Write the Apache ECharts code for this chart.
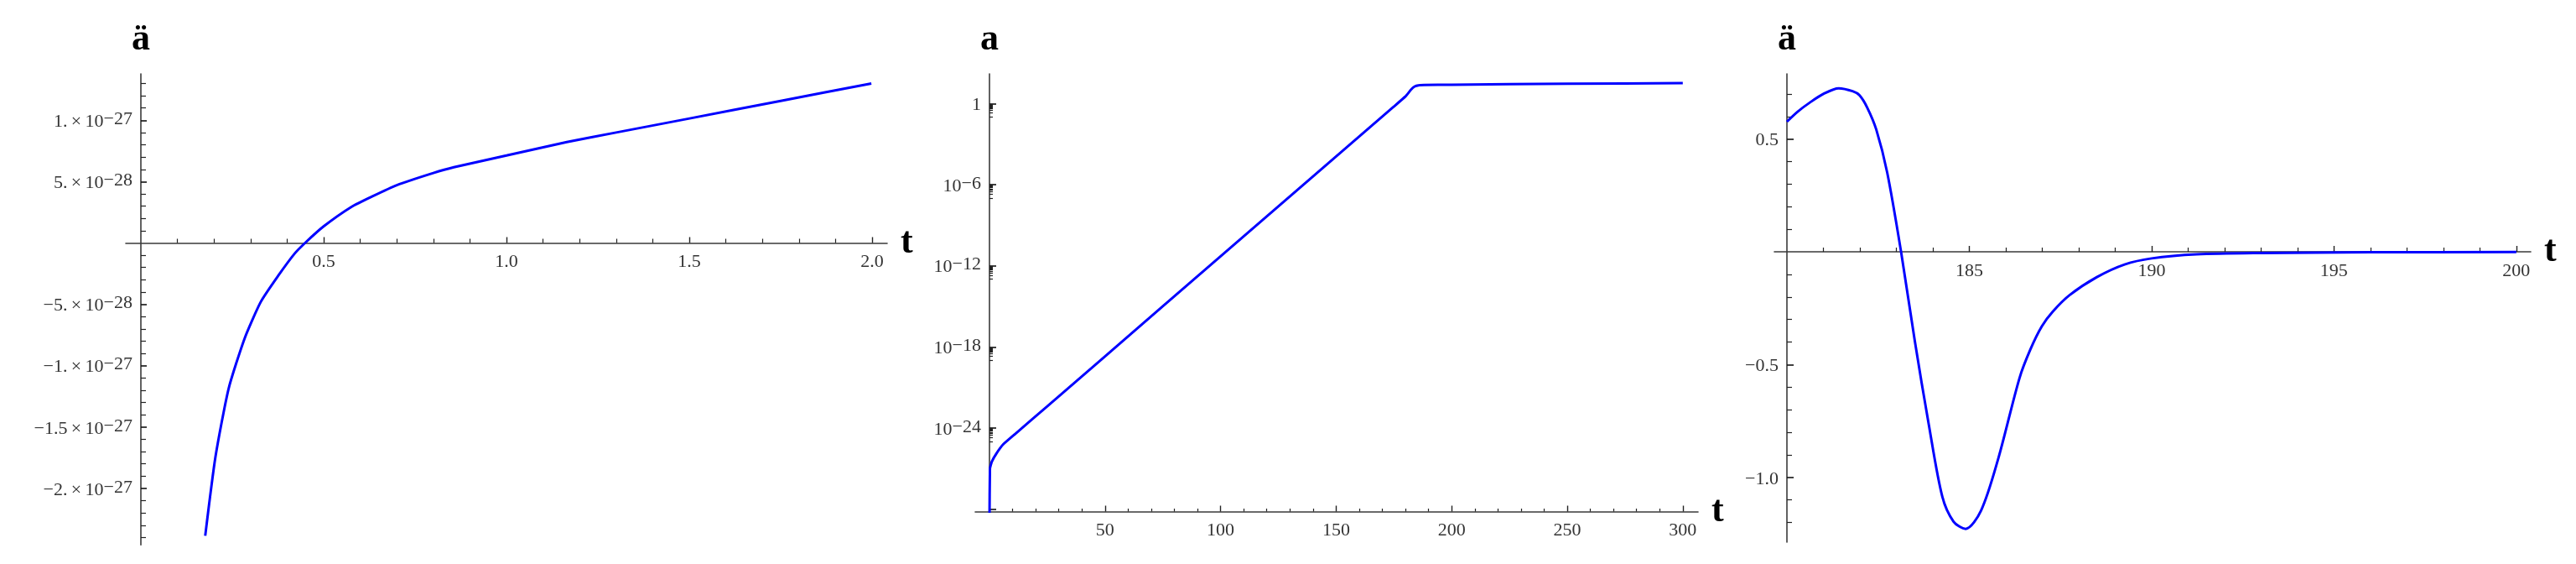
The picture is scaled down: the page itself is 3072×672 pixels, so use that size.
<!DOCTYPE html>
<html>
<head>
<meta charset="utf-8">
<script src="https://cdn.jsdelivr.net/npm/echarts@6/dist/echarts.min.js"></script>
<style>
  html, body { margin: 0; padding: 0; background: #fff; }
  #chart { width: 3072px; height: 672px; }
</style>
</head>
<body>
<div id="chart"></div>
<script>
// panel 1: acceleration for small t
const t1 = [0.176, 0.204, 0.240, 0.284, 0.328, 0.375, 0.421, 0.449, 0.499, 0.576, 0.63, 0.700, 0.80, 0.856, 1.0, 1.165,
  1.3, 1.498, 1.75, 1.998];
const acc1 = [-2.386e-27, -1.743e-27, -1.187e-27, -7.76e-28, -4.8e-28, -2.7e-28, -8.5e-29, 0, 1.33e-28, 2.94e-28,
  3.75e-28, 4.71e-28, 5.7e-28, 6.17e-28, 7.13e-28, 8.22e-28, 9.0e-28, 1.013e-27, 1.158e-27, 1.300e-27];

// panel 2: scale factor (log axis)
const t2 = [0, 0.2, 1, 3, 6, 11, 25, 50, 100, 150, 175, 180, 182.5, 184, 185.6, 188, 200, 250, 300];
const a2 = [1e-31, 1e-27, 3.2e-27, 1.3e-26, 6.3e-26, 3.5e-25, 4e-23, 2e-19, 5e-12, 1.2e-4, 0.59, 3.3, 11, 18, 22, 23, 24.5, 29, 32];

// panel 3: acceleration around the end of inflation
const t3 = [180.0, 180.3, 180.63, 181.0, 181.42, 181.8, 181.99, 182.2, 182.45, 182.75, 183.13, 183.51, 183.89, 184.26,
  184.57, 184.9, 185.32, 185.78, 186.38, 186.68, 186.99, 187.29, 187.75, 188.5, 189.26, 190.0, 191.23, 193.0, 196.0, 200.0];
const acc3 = [0.577, 0.622, 0.662, 0.700, 0.725, 0.712, 0.694, 0.640, 0.542, 0.351, 0.0, -0.399, -0.766, -1.085,
  -1.196, -1.228, -1.148, -0.925, -0.558, -0.431, -0.330, -0.265, -0.192, -0.112, -0.056, -0.029, -0.011, -0.005, -0.002, -0.001];

// tick labels
const xTicks1 = [0.5, 1.0, 1.5, 2.0];
const xLabels1 = ['0.5', '1.0', '1.5', '2.0'];
const yTicks1 = [1e-27, 5e-28, -5e-28, -1e-27, -1.5e-27, -2e-27];
const yMant1 = ['1.', '5.', '\u22125.', '\u22121.', '\u22121.5', '\u22122.'];
const yExp1 = ['\u221227', '\u221228', '\u221228', '\u221227', '\u221227', '\u221227'];

const xTicks2 = [50, 100, 150, 200, 250, 300];
const yTicks2 = [1, 1e-6, 1e-12, 1e-18, 1e-24, 1e-30];
const yExp2 = ['', '\u22126', '\u221212', '\u221218', '\u221224', ''];

const xTicks3 = [185, 190, 195, 200];
const yTicks3 = [0.5, -0.5, -1.0];
const yLabels3 = ['0.5', '\u22120.5', '\u22121.0'];

// minor ticks
const xMinor1 = [], yMinor1 = [], xMinor2 = [], yMinor2 = [], xMinor3 = [], yMinor3 = [];
for (let i = 1; i <= 20; i++) if (i % 5) xMinor1.push(i / 10);
for (let i = -24; i <= 13; i++) if (i % 5) yMinor1.push(i * 1e-28);
for (let i = 10; i <= 300; i += 10) if (i % 50) xMinor2.push(i);
[0, -6, -12, -18, -24].forEach(n => { for (let k = 1; k <= 9; k++) yMinor2.push(k * Math.pow(10, n - 1)); });
for (let i = 181; i <= 200; i++) if (i % 5) xMinor3.push(i);
for (let i = -12; i <= 7; i++) if (i % 5) yMinor3.push(i / 10);

const serif = '"Liberation Serif", "Times New Roman", serif';
const blue = '#0000ff';
const lblColor = '#333';

// base text + raised exponent
const rich = {
  b: { fontFamily: serif, fontSize: 22, color: lblColor, lineHeight: 24, padding: [10, 0, 6, 0] },
  s: { fontFamily: serif, fontSize: 22, color: lblColor, lineHeight: 24, verticalAlign: 'top' }
};

function findIdx(arr, v) {
  for (let i = 0; i < arr.length; i++) {
    if (Math.abs(arr[i] - v) <= Math.abs(arr[i]) * 1e-6 + 1e-40) return i;
  }
  return -1;
}

const nameStyle = { fontFamily: serif, fontWeight: 'bold', fontSize: 44, color: '#000' };
const axLine = { color: '#3a3a3a', width: 1.6 };

// each panel: plot rect, where its axes cross, ranges, ticks
const panels = [
  {
    rect: [150, 88, 1058, 649.3], cross: [168, 289.5],
    x: { type: 'value', min: -0.0413, max: 2.0413 }, y: { type: 'value', min: -2.461e-27, max: 1.378e-27 },
    yName: '\u00e4', xTicks: xTicks1, xMinor: xMinor1, yTicks: yTicks1, yMinor: yMinor1, yLen: 7, xMinorLen: 5, yMinorLen: 6,
    xFmt: v => xLabels1[findIdx(xTicks1, v)],
    yFmt: v => { const i = findIdx(yTicks1, v); return '{b|' + yMant1[i] + '\u2009\u00d7\u200910}{s|' + yExp1[i] + '}'; },
    t: t1, v: acc1, smooth: 0.2
  },
  {
    rect: [1163, 88, 2025, 609.5], cross: [1180, 609.5],
    x: { type: 'value', min: -6.17, max: 306.6 }, y: { type: 'log', logBase: 10, min: 6.6e-31, max: 155 },
    yName: 'a', xTicks: xTicks2, xMinor: xMinor2, yTicks: yTicks2, yMinor: yMinor2, yLen: 8, xMinorLen: 3.5, yMinorLen: 4,
    xFmt: v => String(v),
    yFmt: v => {
      const i = findIdx(yTicks2, v);
      if (i < 0 || i === 5) return '';
      if (i === 0) return '{b|1}';
      return '{b|10}{s|' + yExp2[i] + '}';
    },
    t: t2, v: a2, smooth: 0.1
  },
  {
    rect: [2116, 88, 3018, 646], cross: [2131, 300],
    x: { type: 'value', min: 179.655, max: 200.395 }, y: { type: 'value', min: -1.287, max: 0.789 },
    yName: '\u00e4', xTicks: xTicks3, xMinor: xMinor3, yTicks: yTicks3, yMinor: yMinor3, yLen: 8, xMinorLen: 5, yMinorLen: 6,
    xFmt: v => String(v),
    yFmt: v => '{b|' + yLabels3[findIdx(yTicks3, v)] + '}',
    t: t3, v: acc3, smooth: 0.3
  }
];

const grids = [], xAxes = [], yAxes = [], series = [];
function hidden(spec, gi) { return Object.assign({ gridIndex: gi, show: false, splitLine: { show: false } }, spec); }
function tickAxis(spec, gi, pos, ticks, len) {
  return Object.assign({
    gridIndex: gi, position: pos,
    axisLine: { show: false },
    axisTick: { show: true, inside: true, length: len, customValues: ticks, lineStyle: { color: '#222', width: 1.2 } },
    axisLabel: { show: false }, splitLine: { show: false }
  }, spec);
}
function zip(a, b) { return a.map((v, i) => [v, b[i]]); }

panels.forEach(p => {
  const [l, t, r, b] = p.rect;
  const [cx, cy] = p.cross;
  // plot grid: curve only
  const g = grids.length;
  grids.push({ left: l, top: t, width: r - l, height: b - t });
  xAxes.push(hidden(p.x, g));
  yAxes.push(hidden(p.y, g));
  series.push({
    type: 'line', xAxisIndex: xAxes.length - 1, yAxisIndex: yAxes.length - 1, data: zip(p.t, p.v),
    showSymbol: false, smooth: p.smooth, clip: true, z: 3,
    lineStyle: { color: blue, width: 3 }, itemStyle: { color: blue }
  });
  // horizontal axis grid: its bottom edge is the t axis
  const gx = grids.length;
  grids.push({ left: l, top: t, width: r - l, height: cy - t });
  xAxes.push(Object.assign({
    gridIndex: gx, position: 'bottom', name: 't', nameLocation: 'end', nameGap: 16,
    nameTextStyle: Object.assign({ verticalAlign: 'middle' }, nameStyle),
    axisLine: { show: true, onZero: false, lineStyle: axLine },
    axisTick: { show: true, inside: true, length: 7, customValues: p.xTicks, lineStyle: { color: '#222', width: 1.4 } },
    axisLabel: { customValues: p.xTicks, margin: 12, fontFamily: serif, fontSize: 22, color: lblColor, formatter: p.xFmt },
    splitLine: { show: false }
  }, p.x));
  xAxes.push(tickAxis(p.x, gx, 'bottom', p.xMinor, p.xMinorLen));
  yAxes.push(hidden({ type: 'value', min: 0, max: 1 }, gx));
  // vertical axis grid: its left edge is the vertical axis
  const gy = grids.length;
  grids.push({ left: cx, top: t, width: r - cx, height: b - t });
  yAxes.push(Object.assign({
    gridIndex: gy, position: 'left', name: p.yName, nameLocation: 'end', nameGap: 18,
    nameTextStyle: nameStyle,
    axisLine: { show: true, onZero: false, lineStyle: axLine },
    axisTick: { show: true, inside: true, length: p.yLen, customValues: p.yTicks, lineStyle: { color: '#111', width: 1.6 } },
    axisLabel: { customValues: p.yTicks, margin: 10, fontFamily: serif, fontSize: 22, color: lblColor, rich: rich, formatter: p.yFmt },
    splitLine: { show: false }
  }, p.y));
  yAxes.push(tickAxis(p.y, gy, 'left', p.yMinor, p.yMinorLen));
  xAxes.push(hidden({ type: 'value', min: 0, max: 1 }, gy));
});

const chart = echarts.init(document.getElementById('chart'), null, { renderer: 'canvas' });
chart.setOption({
  animation: false,
  backgroundColor: '#fff',
  grid: grids,
  xAxis: xAxes,
  yAxis: yAxes,
  series: series
});
</script>
</body>
</html>
